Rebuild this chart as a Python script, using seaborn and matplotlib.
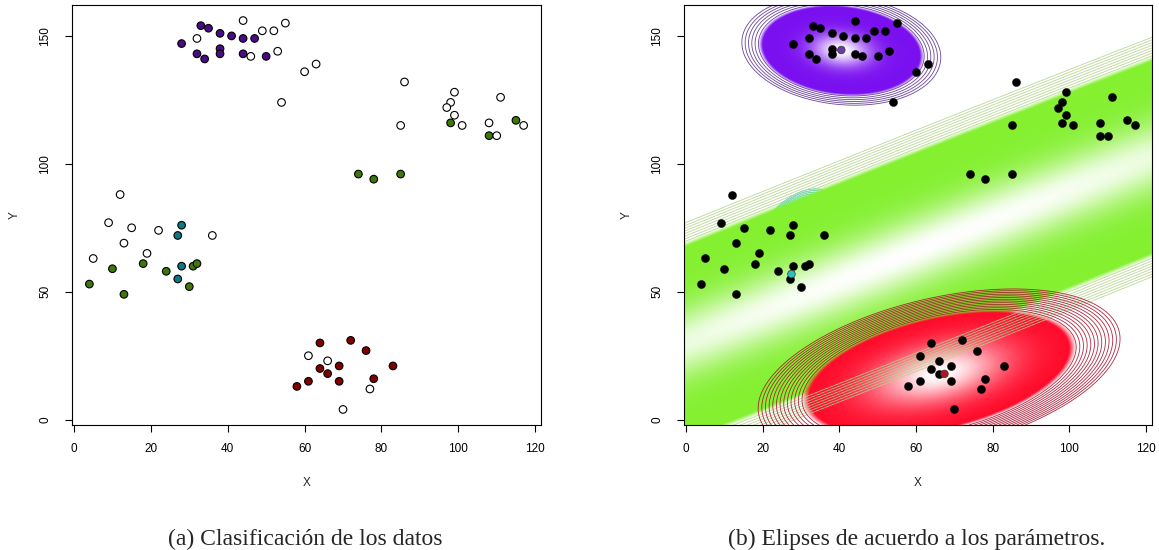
import numpy as np
import pandas as pd
import matplotlib
matplotlib.use("Agg")
import matplotlib.pyplot as plt
import seaborn as sns
from matplotlib.colors import to_rgb

# ---------------- data ----------------
purple_x = [28, 33, 35, 38, 41, 44, 47, 32, 34, 38, 38, 44, 50]
purple_y = [147, 154, 153, 151, 150, 149, 149, 143, 141, 145, 143, 143, 142]
green_x = [74, 78, 85, 98, 108, 115, 10, 18, 24, 31, 32, 30, 4, 13]
green_y = [96, 94, 96, 116, 111, 117, 59, 61, 58, 60, 61, 52, 53, 49]
teal_x = [28, 27, 28, 27]
teal_y = [76, 72, 60, 55]
red_x = [64, 72, 76, 64, 66, 69, 83, 61, 58, 69, 78]
red_y = [30, 31, 27, 20, 18, 21, 21, 15, 13, 15, 16]
open_x = [44, 32, 49, 52, 55, 46, 53, 60, 63, 54,
          86, 85, 99, 98, 97, 99, 101, 108, 110, 111, 117,
          12, 9, 15, 22, 36, 13, 19, 5,
          61, 66, 77, 70]
open_y = [156, 149, 152, 152, 155, 142, 144, 136, 139, 124,
          132, 115, 128, 124, 122, 119, 115, 116, 111, 126, 115,
          88, 77, 75, 74, 72, 69, 65, 63,
          25, 23, 12, 4]

group_names = ["purple", "green", "teal", "red", "none"]
group_colors = {"purple": "#4B0A86", "green": "#3C780A", "teal": "#0B7884",
                "red": "#800000", "none": "#FFFFFF"}

# Gaussian components (ellipses) of the right panel
comp_names = ["teal", "green", "red", "purple"]
comp_mu_x = [28.0, 60.0, 66.0, 40.5]
comp_mu_y = [68.0, 66.0, 18.0, 144.5]
comp_a = [21.0, 500.0, 38.0, 22.0]        # semi-major (fill edge)
comp_b = [9.5, 34.3, 21.5, 17.5]          # semi-minor (fill edge)
comp_angle = [72.0, 30.96, 24.3, -18.0]   # degrees
comp_sharp = [5.0, 9.0, 4.5, 9.0]
comp_outer = [1.10, 1.18, 1.32, 1.20]
comp_nlines = [4, 8, 13, 6]
comp_fill = ["#48E0D8", "#84F030", "#FF0A2A", "#7A10F0"]
comp_line = ["#30C8C8", "#B4D48C", "#A8102E", "#5A3090"]
comp_layer = [1.2, 1.5, 1.6, 1.7]

center_x = [40.5, 67.4, 27.5]
center_y = [144.5, 17.9, 56.9]
center_col = ["#6A3CA8", "#B0141E", "#2CC0C0"]

x_ticks = [0, 20, 40, 60, 80, 100, 120]
y_ticks = [0, 50, 100, 150]
captions = ["(a) Clasificación de los datos", "(b) Elipses de acuerdo a los parámetros."]

# ---------------- table ----------------
rows = []
for g, xs, ys in [("purple", purple_x, purple_y), ("green", green_x, green_y),
                  ("teal", teal_x, teal_y), ("red", red_x, red_y), ("none", open_x, open_y)]:
    for a, b in zip(xs, ys):
        rows.append((a, b, g))
df = pd.DataFrame(rows, columns=["X", "Y", "grupo"])

all_x = np.array(df["X"]); all_y = np.array(df["Y"])
def rlim(v):
    lo, hi = v.min(), v.max(); p = 0.04 * (hi - lo)
    return lo - p, hi + p
xlim = rlim(all_x); ylim = rlim(all_y)

sns.set_theme(style="ticks")
plt.rcParams['font.family'] = ['Liberation Sans', 'DejaVu Sans']

W, H = 1159, 550
fig = plt.figure(figsize=(W / 100, H / 100), dpi=100)
ax1 = fig.add_axes([72 / W, 125 / H, 469 / W, 420 / H])
ax2 = fig.add_axes([684 / W, 125 / H, 468 / W, 420 / H])

def style(ax):
    ax.set_xlim(xlim); ax.set_ylim(ylim)
    ax.set_xticks(x_ticks); ax.set_yticks(y_ticks)
    ax.set_xticklabels([str(t) for t in x_ticks]); ax.set_yticklabels([str(t) for t in y_ticks])
    for s in ax.spines.values():
        s.set_visible(True); s.set_color("black"); s.set_linewidth(0.8)
    ax.tick_params(direction="out", length=5, width=0.8, labelsize=8.5, colors="black")
    ax.tick_params(axis="x", pad=8)
    ax.tick_params(axis="y", pad=10, labelrotation=90)
    for lab in ax.get_yticklabels():
        lab.set_va("center")
    ax.set_xlabel("X", fontsize=8.5); ax.set_ylabel("Y", fontsize=8.5)
    ax.xaxis.set_label_coords(0.5, -58 / 420); ax.xaxis.label.set_va("center")
    ax.yaxis.set_label_coords(-57 / 469, 0.5); ax.yaxis.label.set_va("center")
    ax.grid(False)
    ax.set_facecolor("white")

# ---------------- left panel ----------------
sns.scatterplot(data=df, x="X", y="Y", hue="grupo", palette=group_colors,
                hue_order=group_names, s=30, edgecolor="black", linewidth=0.8,
                legend=False, ax=ax1, zorder=3)
style(ax1)

# ---------------- right panel ----------------
gx = np.linspace(xlim[0], xlim[1], 800)
gy = np.linspace(ylim[0], ylim[1], 600)
XX, YY = np.meshgrid(gx, gy)
dists = []
for i in range(len(comp_names)):
    th = np.deg2rad(comp_angle[i]); c, s = np.cos(th), np.sin(th)
    dx = XX - comp_mu_x[i]; dy = YY - comp_mu_y[i]
    u = (dx * c + dy * s) / comp_a[i]
    v = (-dx * s + dy * c) / comp_b[i]
    dists.append(np.sqrt(u ** 2 + v ** 2))

for i in range(len(comp_names)):
    d = dists[i]
    k = comp_sharp[i]
    e0 = np.exp(-k)
    t = np.clip((np.exp(-k * d ** 2) - e0) / (1 - e0), 0, 1)
    col = np.array(to_rgb(comp_fill[i]))
    rgba = np.zeros(d.shape + (4,))
    rgba[..., :3] = t[..., None] * 1.0 + (1 - t[..., None]) * col
    rgba[..., 3] = np.clip((1 - d) / 0.05, 0, 1)
    ax2.imshow(rgba, extent=[xlim[0], xlim[1], ylim[0], ylim[1]], origin="lower",
               aspect="auto", interpolation="bilinear", zorder=comp_layer[i])
    lv = np.linspace(1.0, comp_outer[i], comp_nlines[i])
    zc = comp_layer[i] + 0.05 if comp_names[i] == "teal" else 2
    ax2.contour(XX, YY, d, levels=lv, colors=comp_line[i], linewidths=0.6,
                alpha=0.9, zorder=zc)

sns.scatterplot(data=df, x="X", y="Y", color="black", s=34, edgecolor="black",
                linewidth=0.3, legend=False, ax=ax2, zorder=4)
cdf = pd.DataFrame({"X": center_x, "Y": center_y, "c": center_col})
sns.scatterplot(data=cdf, x="X", y="Y", hue="c", palette={c: c for c in center_col},
                s=30, edgecolor="#333333", linewidth=0.5, legend=False, ax=ax2, zorder=5)
style(ax2)

fig.text(305 / W, 5 / H, captions[0], ha="center", va="baseline",
         family=["Liberation Serif"], fontsize=17)
fig.text(917 / W, 5 / H, captions[1], ha="center", va="baseline",
         family=["Liberation Serif"], fontsize=17)

fig.savefig("out.png", dpi=100, facecolor="white")
